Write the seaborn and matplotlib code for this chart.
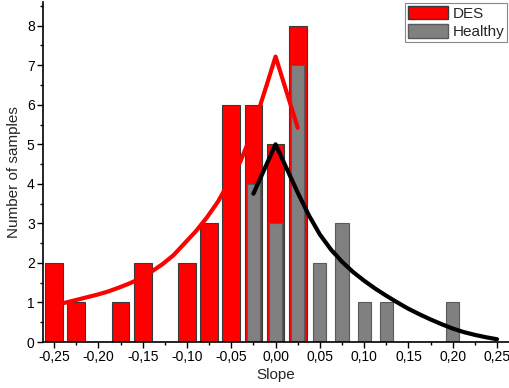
import numpy as np
import pandas as pd
import matplotlib
matplotlib.use('Agg')
import matplotlib.pyplot as plt
import seaborn as sns
from matplotlib.patches import Patch
from matplotlib.ticker import MultipleLocator, FuncFormatter

# histogram counts per slope bin (bin width 0.025)
des_slope = [-0.25, -0.225, -0.175, -0.15, -0.10, -0.075, -0.05, -0.025, 0.0, 0.025]
des_count = [2, 1, 1, 2, 2, 3, 6, 6, 5, 8]
healthy_slope = [-0.025, 0.0, 0.025, 0.05, 0.075, 0.10, 0.125, 0.20]
healthy_count = [4, 3, 7, 2, 3, 1, 1, 1]

# fitted curves
des_fit_x = [-0.24, -0.2275, -0.215, -0.2025, -0.19, -0.1775, -0.165, -0.1525, -0.14,
             -0.1275, -0.115, -0.1025, -0.09, -0.0775, -0.065, -0.0525, -0.04, -0.03,
             -0.02, -0.01, 0.0, 0.025]
des_fit_y = [0.98, 1.05, 1.12, 1.19, 1.27, 1.37, 1.48, 1.61, 1.78,
             1.97, 2.20, 2.50, 2.80, 3.15, 3.55, 4.05, 4.55, 5.10,
             5.80, 6.50, 7.22, 5.42]
healthy_fit_x = [-0.025, 0.0, 0.0125, 0.025, 0.0375, 0.05, 0.0625, 0.075, 0.0875, 0.10,
                 0.1125, 0.125, 0.1375, 0.15, 0.1625, 0.175, 0.1875, 0.20, 0.2125,
                 0.225, 0.2375, 0.25]
healthy_fit_y = [3.75, 5.0, 4.39, 3.78, 3.21, 2.72, 2.34, 2.03, 1.77, 1.55,
                 1.35, 1.17, 1.00, 0.84, 0.70, 0.57, 0.45, 0.34, 0.25,
                 0.18, 0.12, 0.07]

des_df = pd.DataFrame({'slope': des_slope, 'n': des_count})
healthy_df = pd.DataFrame({'slope': healthy_slope, 'n': healthy_count})

sns.set_style('ticks')
plt.rcParams['font.family'] = ['Liberation Sans', 'DejaVu Sans']

bin_w = 0.025
edges = list(np.arange(-0.2625, 0.2626 + bin_w, bin_w))

fig = plt.figure(figsize=(5.1, 3.88), dpi=100)
ax = fig.add_axes([43 / 510, 1 - 342 / 388, (509 - 43) / 510, (342 - 2) / 388])

sns.histplot(data=des_df, x='slope', weights='n', bins=edges, shrink=0.8,
             color='#ff0000', edgecolor='#3a3a3a', linewidth=0.8, alpha=1, ax=ax)
sns.histplot(data=healthy_df, x='slope', weights='n', bins=edges, shrink=0.6,
             color='#808080', edgecolor='#5a5a5a', linewidth=0.8, alpha=1, ax=ax)

sns.lineplot(x=des_fit_x, y=des_fit_y, sort=False, color='#ff0000', lw=3, ax=ax)
sns.lineplot(x=healthy_fit_x, y=healthy_fit_y, sort=False, color='black', lw=3, ax=ax)

ax.set_xlim(-0.2625, 0.2635)
ax.set_ylim(0, 8.6)
ax.xaxis.set_major_locator(MultipleLocator(0.05))
ax.xaxis.set_minor_locator(MultipleLocator(0.025))
ax.yaxis.set_major_locator(MultipleLocator(1))
ax.yaxis.set_minor_locator(MultipleLocator(0.5))
ax.xaxis.set_major_formatter(FuncFormatter(lambda v, p: f"{v:.2f}".replace('.', ',').replace('-0,00', '0,00')))
ax.tick_params(which='major', length=4, width=1, labelsize=10, color='black', labelcolor='black', pad=2)
ax.tick_params(which='minor', length=2.5, width=1, color='black')
sns.despine(ax=ax)
for s in ['left', 'bottom']:
    ax.spines[s].set_color('black')
    ax.spines[s].set_linewidth(1.2)

ax.set_xlabel('Slope', fontsize=11, labelpad=3)
ax.set_ylabel('Number of samples', fontsize=11, labelpad=4)

handles = [Patch(facecolor='#ff0000', edgecolor='#3a3a3a', label='DES'),
           Patch(facecolor='#808080', edgecolor='#5a5a5a', label='Healthy')]
leg = ax.legend(handles=handles, loc='upper right', bbox_to_anchor=(0.996, 0.998),
                borderaxespad=0, fancybox=False, framealpha=1, fontsize=11,
                handlelength=2.6, handleheight=1.0, handletextpad=0.3,
                labelspacing=0.2, borderpad=0.2)
leg.get_frame().set_edgecolor('#888888')
leg.get_frame().set_linewidth(0.8)

fig.savefig('out.png', dpi=100)
